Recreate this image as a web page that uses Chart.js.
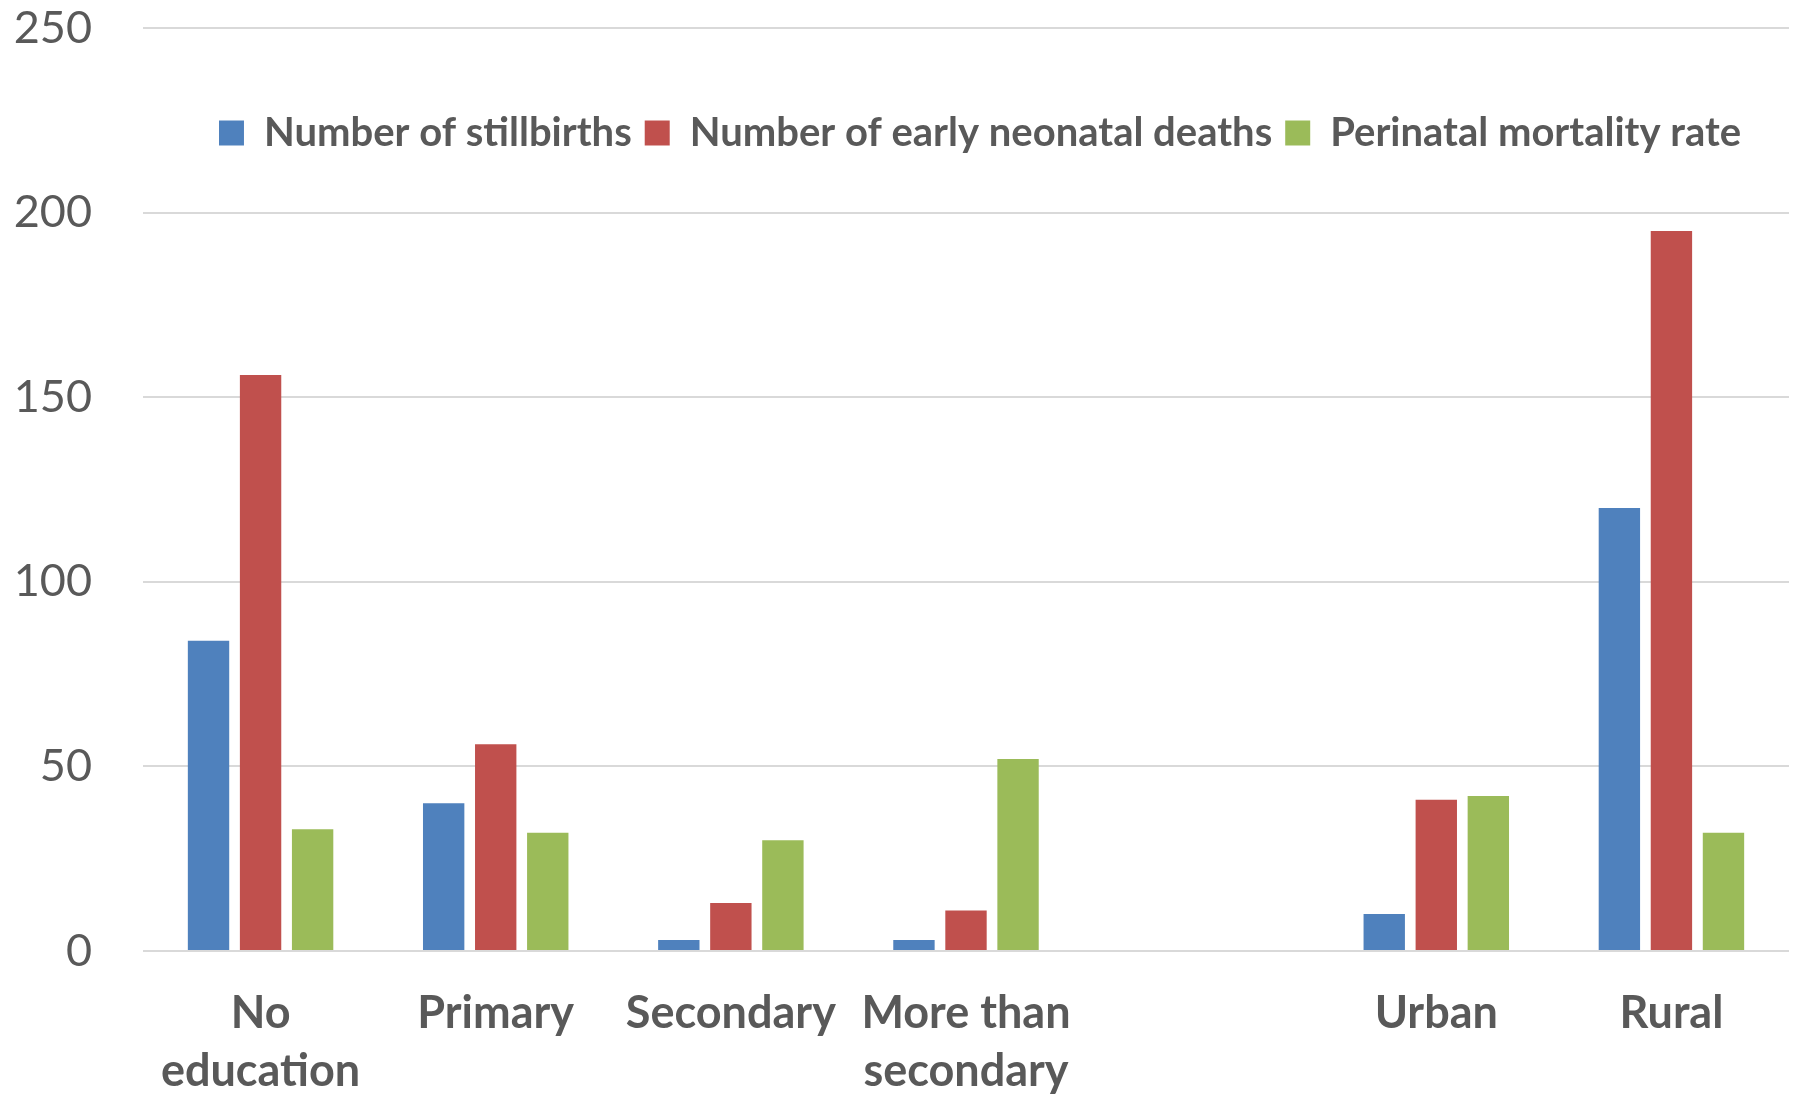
<!DOCTYPE html>
<html>
<head>
<meta charset="utf-8">
<script src="https://cdn.jsdelivr.net/npm/chart.js@4"></script>
<style>
  html, body { margin: 0; padding: 0; background: #fff; }
  #wrap { width: 1800px; height: 1096px; }
</style>
</head>
<body>
<div id="wrap"><canvas id="myChart"></canvas></div>
<script>
var kategori = [['No', 'education'], 'Primary', 'Secondary', ['More than', 'secondary'], '', 'Urban', 'Rural'];
var stillbirths = [84, 40, 3, 3, null, 10, 120];
var neonatal = [156, 56, 13, 11, null, 41, 195];
var perinatal = [33, 32, 30, 52, null, 42, 32];
var yTicks = [0, 50, 100, 150, 200, 250];

var abu = '#595959';
var ctx = document.getElementById('myChart').getContext('2d');

// legend sits inside the plot area but laid out in one row
var legendDalamPlot = {
    id: 'legendDalamPlot',
    beforeLayout: function (chart) {
        if (chart.legend) {
            chart.legend.isHorizontal = function () { return true; };
        }
    },
    afterLayout: function (chart) {
        var lg = chart.legend;
        var ca = chart.chartArea;
        if (!lg) return;
        lg.left = ca.left + 14;
        lg.right = ca.right + 14;
        lg.top = ca.top;
        lg.adjustHitBoxes();
    }
};

var myChart = new Chart(ctx, {
    type: 'bar',
    data: {
        labels: kategori,
        datasets: [
            { label: 'Number of stillbirths', data: stillbirths, backgroundColor: '#4F81BD' },
            { label: 'Number of early neonatal deaths', data: neonatal, backgroundColor: '#C0504D' },
            { label: 'Perinatal mortality rate', data: perinatal, backgroundColor: '#9BBB59' }
        ]
    },
    options: {
        responsive: true,
        maintainAspectRatio: false,
        animation: false,
        layout: { padding: { top: 28, right: 11, left: 0, bottom: 0 } },
        datasets: { bar: { categoryPercentage: 0.664, barPercentage: 0.795 } },
        plugins: {
            tooltip: { enabled: false },
            legend: {
                position: 'chartArea',
                fullSize: false,
                title: { display: true, text: ' ', font: { size: 10 }, padding: { top: 60, bottom: 0 } },
                labels: {
                    boxWidth: 25,
                    boxHeight: 25,
                    padding: 13,
                    color: abu,
                    font: { family: 'Lato', size: 40, weight: 'bold' }
                }
            }
        },
        scales: {
            x: {
                grid: { display: false },
                border: { display: false },
                ticks: {
                    color: abu,
                    autoSkip: false,
                    maxRotation: 0,
                    padding: 25,
                    font: { family: 'Lato', size: 45, weight: 'bold', lineHeight: 1.3 }
                },
                afterFit: function (scale) { scale.height = 145; }
            },
            y: {
                min: 0,
                max: 250,
                afterBuildTicks: function (scale) {
                    scale.ticks = yTicks.map(function (v) { return { value: v }; });
                },
                grid: { color: '#D9D9D9', lineWidth: 2, drawTicks: false },
                border: { display: false },
                ticks: {
                    color: abu,
                    padding: 51,
                    font: { family: 'Lato', size: 45 }
                },
                afterFit: function (scale) {
                    scale.width = 143;
                    // tick padding should only push labels sideways
                    scale.paddingTop = 0;
                    scale.paddingBottom = 0;
                }
            }
        }
    },
    plugins: [legendDalamPlot]
});
</script>
</body>
</html>
